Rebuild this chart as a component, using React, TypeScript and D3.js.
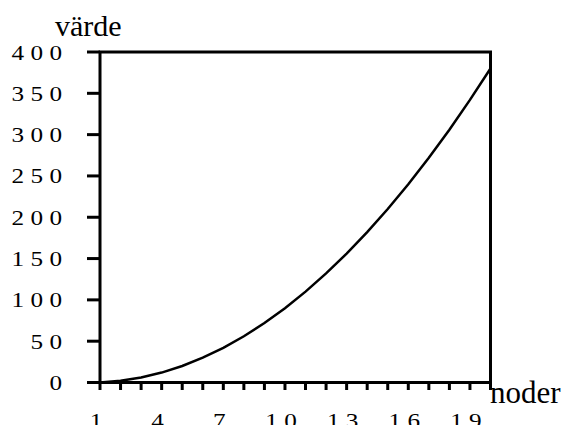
import React from "react";
import * as d3 from "d3";

const nodes = [1,2,3,4,5,6,7,8,9,10,11,12,13,14,15,16,17,18,19,20];
const values = [0,2,6,12,20,30,42,56,72,90,110,132,156,182,210,240,272,306,342,380];
const yTicks = [0,50,100,150,200,250,300,350,400];
const xTickLabels = [1,4,7,10,13,16,19];

const W = 566, H = 425;
const L = 100, R = 490.5, T = 52, B = 382.5;
const SX = 1.2;
const FONT = "'Liberation Serif', 'Times New Roman', Times, serif";

const spaced = (v: number) => String(v).split("").join(" ");

export default function App() {
  const x = d3.scaleLinear().domain([1, 20]).range([L, R]);
  const y = d3.scaleLinear().domain([0, 400]).range([B, T]);
  const line = d3.line<number>().x((_, i) => x(nodes[i])).y(d => y(d));
  return (
    <svg width={W} height={H} style={{ position: "absolute", left: 0, top: 0, background: "#fff" }}>
      <rect width={W} height={H} fill="#fff" />
      <g style={{ fontFamily: FONT }} fill="#000">
        <text x={55} y={36} fontSize={30}>värde</text>
        <text x={490} y={403} fontSize={31}>noder</text>
        {yTicks.map(t => (
          <text key={t} transform={`translate(62,${y(t) + 7.5}) scale(${SX},1)`} fontSize={21} textAnchor="end">{spaced(t)}</text>
        ))}
        {xTickLabels.map(t => (
          <text key={t} transform={`translate(${x(t) - 4},427.5) scale(${SX},1)`} fontSize={21} textAnchor="middle">{spaced(t)}</text>
        ))}
      </g>
      <g stroke="#000" strokeWidth={3} fill="none">
        {yTicks.map(t => (
          <line key={t} x1={87} x2={L} y1={y(t)} y2={y(t)} />
        ))}
        {nodes.map(n => (
          <line key={n} x1={x(n)} x2={x(n)} y1={B} y2={B + 7.5} />
        ))}
        <rect x={L} y={T} width={R - L} height={B - T} />
      </g>
      <path d={line(values) || ""} fill="none" stroke="#000" strokeWidth={2.5} />
    </svg>
  );
}
